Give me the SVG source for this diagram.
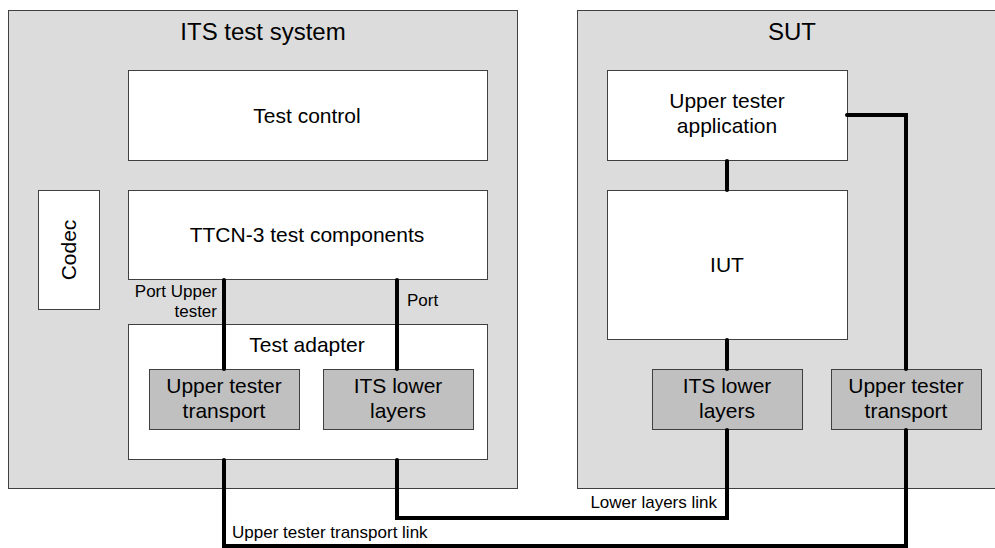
<svg xmlns="http://www.w3.org/2000/svg" width="995" height="548" viewBox="0 0 995 548">
<style>
.outer{fill:#dcdcdc;stroke:#404040;stroke-width:1}
.box{fill:#ffffff;stroke:#404040;stroke-width:1}
.gbox{fill:#c0c0c0;stroke:#404040;stroke-width:1}
text{font-family:"Liberation Sans",Arial,sans-serif;fill:#000}
.title{font-size:24px;text-anchor:middle}
.t{font-size:21px;text-anchor:middle}
.lbl{font-size:17px}
.conn{fill:none;stroke:#000;stroke-width:4;stroke-linecap:round;stroke-linejoin:miter}
</style>
<rect width="995" height="548" fill="#fff"/>
<g id="its-test-system">
<rect class="outer" x="8.5" y="10.5" width="509" height="478"/>
<text class="title" x="263" y="40">ITS test system</text>
</g>
<g id="sut">
<rect class="outer" x="577.5" y="10.5" width="440" height="478"/>
<text class="title" x="792" y="40">SUT</text>
</g>
<g id="test-control">
<rect class="box" x="128.5" y="70.5" width="359" height="90"/>
<text class="t" x="307" y="123">Test control</text>
</g>
<g id="codec">
<rect class="box" x="38.5" y="190.5" width="61" height="119"/>
<text class="t" transform="translate(76,250) rotate(-90)" x="0" y="0">Codec</text>
</g>
<g id="ttcn3">
<rect class="box" x="128.5" y="190.5" width="359" height="89"/>
<text class="t" x="307" y="242">TTCN-3 test components</text>
</g>
<g id="test-adapter">
<rect class="box" x="128.5" y="324.5" width="359" height="135"/>
<text class="t" x="307" y="352">Test adapter</text>
</g>
<g id="ta-upper-tester-transport">
<rect class="gbox" x="149.5" y="369.5" width="150" height="60"/>
<text class="t" x="224" y="393">Upper tester</text>
<text class="t" x="224" y="418">transport</text>
</g>
<g id="ta-its-lower-layers">
<rect class="gbox" x="323.5" y="369.5" width="150" height="60"/>
<text class="t" x="398" y="393">ITS lower</text>
<text class="t" x="398" y="418">layers</text>
</g>
<g id="upper-tester-application">
<rect class="box" x="607.5" y="70.5" width="240" height="90"/>
<text class="t" x="727" y="108">Upper tester</text>
<text class="t" x="727" y="133">application</text>
</g>
<g id="iut">
<rect class="box" x="607.5" y="190.5" width="240" height="149"/>
<text class="t" x="727" y="272">IUT</text>
</g>
<g id="sut-its-lower-layers">
<rect class="gbox" x="652.5" y="369.5" width="150" height="60"/>
<text class="t" x="727" y="393">ITS lower</text>
<text class="t" x="727" y="418">layers</text>
</g>
<g id="sut-upper-tester-transport">
<rect class="gbox" x="831.5" y="369.5" width="150" height="60"/>
<text class="t" x="906" y="393">Upper tester</text>
<text class="t" x="906" y="418">transport</text>
</g>
<g id="connectors">
<path class="conn" d="M224,280 V369"/>
<path class="conn" d="M397,280 V369"/>
<path class="conn" d="M727,161 V190"/>
<path class="conn" d="M727,340 V369"/>
<path class="conn" d="M224,460 V546 H906 V430"/>
<path class="conn" d="M906,369 V115 H847"/>
<path class="conn" d="M397,460 V518 H727 V430"/>
<text class="lbl" x="217" y="297" text-anchor="end">Port Upper</text>
<text class="lbl" x="217" y="317" text-anchor="end">tester</text>
<text class="lbl" x="407" y="306">Port</text>
<text class="lbl" x="717" y="508" text-anchor="end">Lower layers link</text>
<text class="lbl" x="232" y="538">Upper tester transport link</text>
</g>
</svg>
